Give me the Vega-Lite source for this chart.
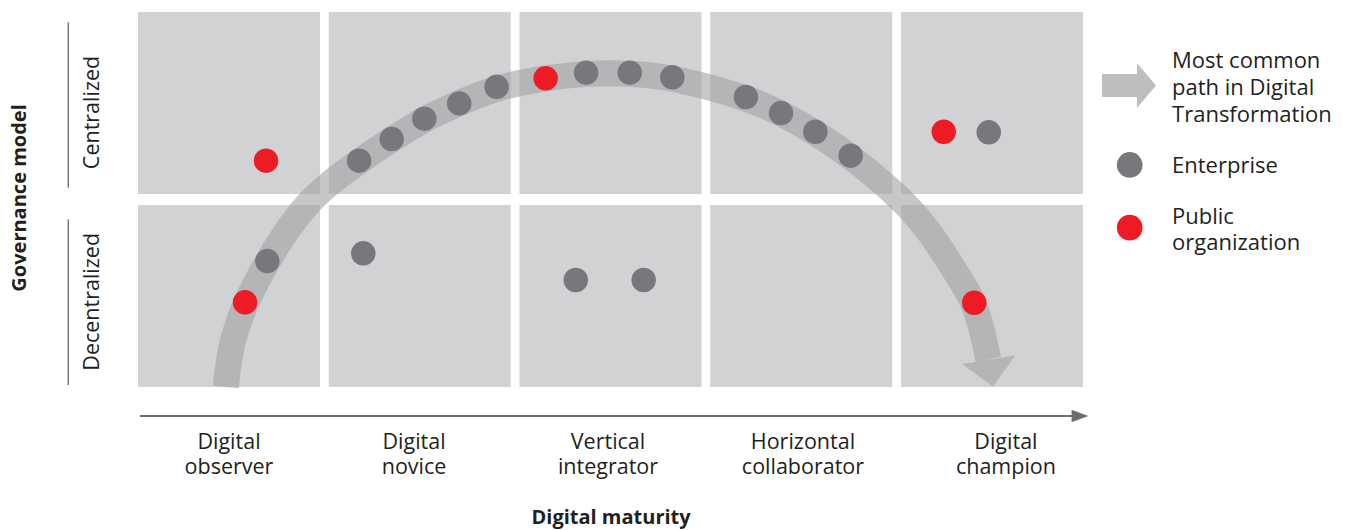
{
  "$schema": "https://vega.github.io/schema/vega-lite/v6.json",
  "width": 1349,
  "height": 530,
  "autosize": {"type": "fit", "contains": "padding"},
  "padding": 0,
  "background": "white",
  "config": {"view": {"stroke": null}, "font": "Open Sans"},
  "layer": [
    {
      "data": {"values": [
        {"stage": "Digital observer", "governance": "Centralized", "x": 0, "y": 1},
        {"stage": "Digital novice", "governance": "Centralized", "x": 1, "y": 1},
        {"stage": "Vertical integrator", "governance": "Centralized", "x": 2, "y": 1},
        {"stage": "Horizontal collaborator", "governance": "Centralized", "x": 3, "y": 1},
        {"stage": "Digital champion", "governance": "Centralized", "x": 4, "y": 1},
        {"stage": "Digital observer", "governance": "Decentralized", "x": 0, "y": 0},
        {"stage": "Digital novice", "governance": "Decentralized", "x": 1, "y": 0},
        {"stage": "Vertical integrator", "governance": "Decentralized", "x": 2, "y": 0},
        {"stage": "Horizontal collaborator", "governance": "Decentralized", "x": 3, "y": 0},
        {"stage": "Digital champion", "governance": "Decentralized", "x": 4, "y": 0}
      ]},
      "mark": {"type": "point", "shape": "square", "size": 33124, "filled": true, "opacity": 1, "color": "#d1d2d4", "strokeWidth": 0},
      "encoding": {
        "x": {"field": "x", "type": "quantitative", "scale": {"domain": [-1.2005, 5.8716], "nice": false, "zero": false}, "axis": null},
        "y": {"field": "y", "type": "quantitative", "scale": {"domain": [-1.2124, 1.5337], "nice": false, "zero": false}, "axis": null}
      }
    },
    {
      "data": {"values": [
        {"i": 1, "x": -0.016, "y": -0.472},
        {"i": 2, "x": 0.004, "y": -0.264},
        {"i": 3, "x": 0.084, "y": -0.035},
        {"i": 4, "x": 0.199, "y": 0.181},
        {"i": 5, "x": 0.405, "y": 0.5},
        {"i": 6, "x": 0.682, "y": 0.699},
        {"i": 7, "x": 0.855, "y": 0.813},
        {"i": 8, "x": 1.022, "y": 0.917},
        {"i": 9, "x": 1.206, "y": 1.0},
        {"i": 10, "x": 1.405, "y": 1.083},
        {"i": 11, "x": 1.662, "y": 1.13},
        {"i": 12, "x": 1.872, "y": 1.155},
        {"i": 13, "x": 2.102, "y": 1.155},
        {"i": 14, "x": 2.322, "y": 1.135},
        {"i": 15, "x": 2.71, "y": 1.031},
        {"i": 16, "x": 2.894, "y": 0.948},
        {"i": 17, "x": 3.072, "y": 0.85},
        {"i": 18, "x": 3.261, "y": 0.725},
        {"i": 19, "x": 3.528, "y": 0.503},
        {"i": 20, "x": 3.67, "y": 0.342},
        {"i": 21, "x": 3.836, "y": 0.083},
        {"i": 22, "x": 3.907, "y": -0.035},
        {"i": 23, "x": 3.948, "y": -0.176},
        {"i": 24, "x": 3.981, "y": -0.329}
      ]},
      "mark": {"type": "line", "interpolate": "basis", "color": "#a0a1a4", "strokeWidth": 26, "opacity": 0.6, "strokeCap": "butt"},
      "encoding": {
        "x": {"field": "x", "type": "quantitative", "scale": {"domain": [-1.2005, 5.8716], "nice": false, "zero": false}, "axis": null},
        "y": {"field": "y", "type": "quantitative", "scale": {"domain": [-1.2124, 1.5337], "nice": false, "zero": false}, "axis": null},
        "order": {"field": "i", "type": "quantitative"}
      }
    },
    {
      "data": {"values": [{"x": 3.994, "y": -0.399}]},
      "mark": {"type": "point", "shape": "M-1,-0.5L1,-0.5L0,0.52Z", "size": 2884, "angle": -9, "filled": true, "opacity": 0.6, "color": "#a0a1a4", "strokeWidth": 0},
      "encoding": {
        "x": {"field": "x", "type": "quantitative", "scale": {"domain": [-1.2005, 5.8716], "nice": false, "zero": false}, "axis": null},
        "y": {"field": "y", "type": "quantitative", "scale": {"domain": [-1.2124, 1.5337], "nice": false, "zero": false}, "axis": null}
      }
    },
    {
      "data": {"values": [
        {"type": "Public organization", "x": 0.194, "y": 0.701},
        {"type": "Enterprise", "x": 0.201, "y": 0.181},
        {"type": "Public organization", "x": 0.084, "y": -0.033},
        {"type": "Enterprise", "x": 0.704, "y": 0.221},
        {"type": "Enterprise", "x": 0.682, "y": 0.701},
        {"type": "Enterprise", "x": 0.853, "y": 0.813},
        {"type": "Enterprise", "x": 1.024, "y": 0.919},
        {"type": "Enterprise", "x": 1.207, "y": 0.998},
        {"type": "Enterprise", "x": 1.403, "y": 1.084},
        {"type": "Public organization", "x": 1.66, "y": 1.128},
        {"type": "Enterprise", "x": 1.872, "y": 1.157},
        {"type": "Enterprise", "x": 2.101, "y": 1.157},
        {"type": "Enterprise", "x": 2.324, "y": 1.133},
        {"type": "Enterprise", "x": 2.71, "y": 1.031},
        {"type": "Enterprise", "x": 2.894, "y": 0.948},
        {"type": "Enterprise", "x": 3.074, "y": 0.851},
        {"type": "Enterprise", "x": 3.259, "y": 0.727},
        {"type": "Public organization", "x": 3.747, "y": 0.851},
        {"type": "Enterprise", "x": 3.983, "y": 0.848},
        {"type": "Public organization", "x": 3.907, "y": -0.035},
        {"type": "Enterprise", "x": 1.818, "y": 0.083},
        {"type": "Enterprise", "x": 2.174, "y": 0.083}
      ]},
      "mark": {"type": "point", "filled": true, "opacity": 1, "size": 600, "strokeWidth": 0},
      "encoding": {
        "x": {"field": "x", "type": "quantitative", "scale": {"domain": [-1.2005, 5.8716], "nice": false, "zero": false}, "axis": null},
        "y": {"field": "y", "type": "quantitative", "scale": {"domain": [-1.2124, 1.5337], "nice": false, "zero": false}, "axis": null},
        "color": {"field": "type", "type": "nominal", "scale": {"domain": ["Enterprise", "Public organization"], "range": ["#77787b", "#ed1c24"]}, "legend": null}
      }
    },
    {
      "data": {"values": [{"x": 4.718, "y": 1.091}]},
      "mark": {"type": "point", "shape": "M-1,-0.426L0.296,-0.426L0.296,-0.833L1,0L0.296,0.833L0.296,0.426L-1,0.426Z", "size": 2916, "filled": true, "opacity": 1, "color": "#bcbec0", "strokeWidth": 0},
      "encoding": {
        "x": {"field": "x", "type": "quantitative", "scale": {"domain": [-1.2005, 5.8716], "nice": false, "zero": false}, "axis": null},
        "y": {"field": "y", "type": "quantitative", "scale": {"domain": [-1.2124, 1.5337], "nice": false, "zero": false}, "axis": null}
      }
    },
    {
      "data": {"values": [
        {"type": "Enterprise", "x": 4.722, "y": 0.679},
        {"type": "Public organization", "x": 4.722, "y": 0.354}
      ]},
      "mark": {"type": "point", "filled": true, "opacity": 1, "size": 660, "strokeWidth": 0},
      "encoding": {
        "x": {"field": "x", "type": "quantitative", "scale": {"domain": [-1.2005, 5.8716], "nice": false, "zero": false}, "axis": null},
        "y": {"field": "y", "type": "quantitative", "scale": {"domain": [-1.2124, 1.5337], "nice": false, "zero": false}, "axis": null},
        "color": {"field": "type", "type": "nominal", "scale": {"domain": ["Enterprise", "Public organization"], "range": ["#77787b", "#ed1c24"]}, "legend": null}
      }
    },
    {
      "data": {"values": [
        {"text": "Most common\npath in Digital\nTransformation", "x": 4.944, "y": 1.216},
        {"text": "Enterprise", "x": 4.944, "y": 0.6756},
        {"text": "Public\norganization", "x": 4.944, "y": 0.411}
      ]},
      "mark": {"type": "text", "align": "left", "baseline": "middle", "fontSize": 22, "lineBreak": "\n", "lineHeight": 26.7, "color": "#231f20"},
      "encoding": {
        "x": {"field": "x", "type": "quantitative", "scale": {"domain": [-1.2005, 5.8716], "nice": false, "zero": false}, "axis": null},
        "y": {"field": "y", "type": "quantitative", "scale": {"domain": [-1.2124, 1.5337], "nice": false, "zero": false}, "axis": null},
        "text": {"field": "text"}
      }
    },
    {
      "data": {"values": [
        {"text": "Digital\nobserver", "x": 0, "y": -0.764},
        {"text": "Digital\nnovice", "x": 0.97, "y": -0.764},
        {"text": "Vertical\nintegrator", "x": 1.987, "y": -0.764},
        {"text": "Horizontal\ncollaborator", "x": 3.009, "y": -0.764},
        {"text": "Digital\nchampion", "x": 4.073, "y": -0.764}
      ]},
      "mark": {"type": "text", "align": "center", "baseline": "middle", "fontSize": 21.5, "lineBreak": "\n", "lineHeight": 25, "color": "#231f20"},
      "encoding": {
        "x": {"field": "x", "type": "quantitative", "scale": {"domain": [-1.2005, 5.8716], "nice": false, "zero": false}, "axis": null},
        "y": {"field": "y", "type": "quantitative", "scale": {"domain": [-1.2124, 1.5337], "nice": false, "zero": false}, "axis": null},
        "text": {"field": "text"}
      }
    },
    {
      "data": {"values": [{"text": "Digital maturity", "x": 2.003, "y": -1.148}]},
      "mark": {"type": "text", "align": "center", "baseline": "middle", "fontSize": 20, "fontWeight": "bold", "color": "#231f20"},
      "encoding": {
        "x": {"field": "x", "type": "quantitative", "scale": {"domain": [-1.2005, 5.8716], "nice": false, "zero": false}, "axis": null},
        "y": {"field": "y", "type": "quantitative", "scale": {"domain": [-1.2124, 1.5337], "nice": false, "zero": false}, "axis": null},
        "text": {"field": "text"}
      }
    },
    {
      "data": {"values": [{"x": -0.4666, "x2": 4.425, "y": -0.622}]},
      "mark": {"type": "rule", "color": "#6d6e71", "strokeWidth": 2},
      "encoding": {
        "x": {"field": "x", "type": "quantitative", "scale": {"domain": [-1.2005, 5.8716], "nice": false, "zero": false}, "axis": null},
        "x2": {"field": "x2"},
        "y": {"field": "y", "type": "quantitative", "scale": {"domain": [-1.2124, 1.5337], "nice": false, "zero": false}, "axis": null}
      }
    },
    {
      "data": {"values": [{"x": 4.461, "y": -0.622}]},
      "mark": {"type": "point", "shape": "M-1,-0.76L1,0L-1,0.76Z", "size": 276, "filled": true, "opacity": 1, "color": "#6d6e71", "strokeWidth": 0},
      "encoding": {
        "x": {"field": "x", "type": "quantitative", "scale": {"domain": [-1.2005, 5.8716], "nice": false, "zero": false}, "axis": null},
        "y": {"field": "y", "type": "quantitative", "scale": {"domain": [-1.2124, 1.5337], "nice": false, "zero": false}, "axis": null}
      }
    },
    {
      "data": {"values": [
        {"x": -0.8425, "y": 1.418, "y2": 0.561},
        {"x": -0.8425, "y": 0.397, "y2": -0.461}
      ]},
      "mark": {"type": "rule", "color": "#77787b", "strokeWidth": 1.5},
      "encoding": {
        "x": {"field": "x", "type": "quantitative", "scale": {"domain": [-1.2005, 5.8716], "nice": false, "zero": false}, "axis": null},
        "y": {"field": "y", "type": "quantitative", "scale": {"domain": [-1.2124, 1.5337], "nice": false, "zero": false}, "axis": null},
        "y2": {"field": "y2"}
      }
    },
    {
      "data": {"values": [
        {"text": "Centralized", "x": -0.7117, "y": 0.951},
        {"text": "Decentralized", "x": -0.7117, "y": -0.03}
      ]},
      "mark": {"type": "text", "align": "center", "baseline": "middle", "angle": 270, "fontSize": 21.5, "color": "#231f20"},
      "encoding": {
        "x": {"field": "x", "type": "quantitative", "scale": {"domain": [-1.2005, 5.8716], "nice": false, "zero": false}, "axis": null},
        "y": {"field": "y", "type": "quantitative", "scale": {"domain": [-1.2124, 1.5337], "nice": false, "zero": false}, "axis": null},
        "text": {"field": "text"}
      }
    },
    {
      "data": {"values": [{"text": "Governance model", "x": -1.0956, "y": 0.508}]},
      "mark": {"type": "text", "align": "center", "baseline": "middle", "angle": 270, "fontSize": 20, "fontWeight": "bold", "color": "#231f20"},
      "encoding": {
        "x": {"field": "x", "type": "quantitative", "scale": {"domain": [-1.2005, 5.8716], "nice": false, "zero": false}, "axis": null},
        "y": {"field": "y", "type": "quantitative", "scale": {"domain": [-1.2124, 1.5337], "nice": false, "zero": false}, "axis": null},
        "text": {"field": "text"}
      }
    }
  ]
}
